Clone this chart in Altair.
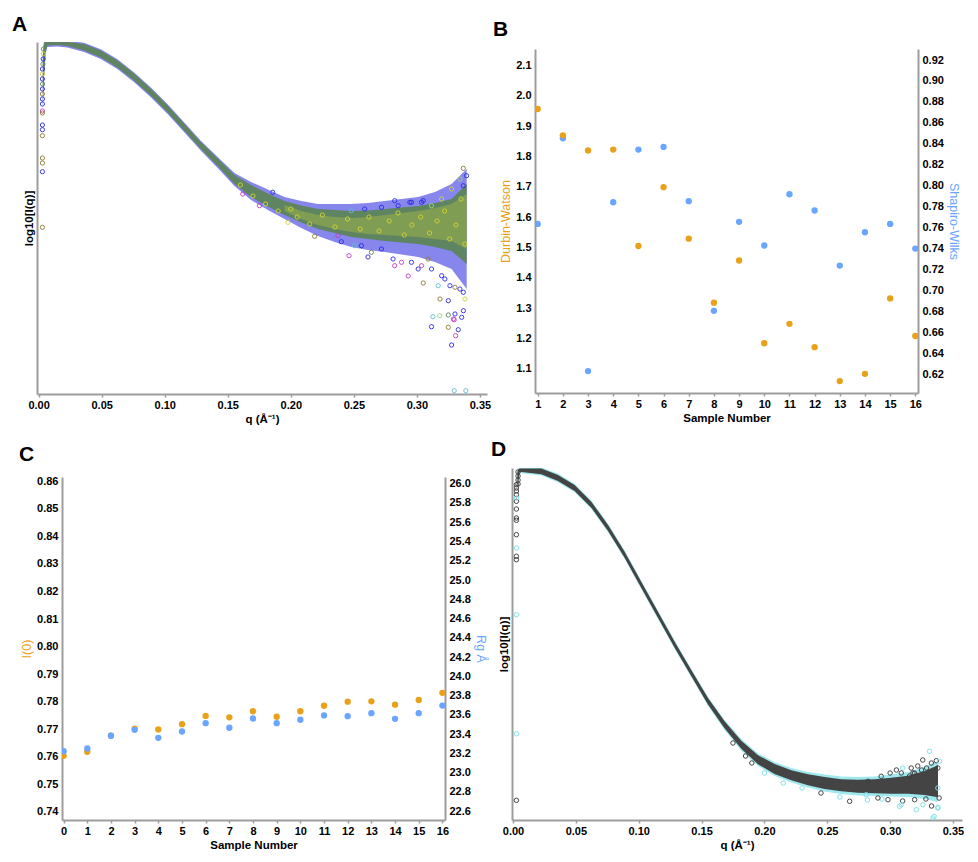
import altair as alt
import pandas as pd

FONT = "Liberation Sans"
ORANGE = "#E8A11B"
BLUE = "#6AA5FF"
AXIS_GREY = "#9d9d9d"

# ---------------- Panel A : overlaid scattering curves ----------------
a_q = [0.0033, 0.0042, 0.0055, 0.0069, 0.0150, 0.0228, 0.0360, 0.0493, 0.0625, 0.0758,
       0.0890, 0.1023, 0.1155, 0.1288, 0.1420, 0.1553, 0.1685, 0.1818, 0.1950, 0.2083,
       0.2215, 0.2348, 0.2480, 0.2613, 0.2745, 0.2878, 0.3010, 0.3143, 0.3275, 0.3395]
a_band_hi = [-0.25, -0.11, -0.10, -0.10, -0.10, -0.10, -0.12, -0.185, -0.285, -0.418,
             -0.568, -0.735, -0.918, -1.102, -1.265, -1.43, -1.53, -1.615, -1.69, -1.735,
             -1.77, -1.78, -1.79, -1.785, -1.77, -1.755, -1.74, -1.71, -1.67, -1.52]
a_band_lo = [-0.75, -0.45, -0.20, -0.135, -0.130, -0.140, -0.185, -0.255, -0.355, -0.488,
             -0.638, -0.805, -0.988, -1.172, -1.340, -1.52, -1.65, -1.745, -1.83, -1.905,
             -1.97, -2.01, -2.05, -2.07, -2.09, -2.105, -2.12, -2.15, -2.19, -2.32]
a_halo_hi = [-0.238, -0.098, -0.088, -0.088, -0.088, -0.088, -0.108, -0.173, -0.273, -0.406,
             -0.556, -0.723, -0.906, -1.090, -1.250, -1.41, -1.50, -1.575, -1.65, -1.69,
             -1.72, -1.72, -1.72, -1.71, -1.69, -1.67, -1.65, -1.60, -1.52, -1.37]
a_halo_lo = [-0.765, -0.465, -0.215, -0.150, -0.145, -0.155, -0.200, -0.270, -0.370, -0.503,
             -0.653, -0.820, -1.003, -1.187, -1.360, -1.54, -1.68, -1.78, -1.87, -1.96,
             -2.04, -2.10, -2.15, -2.18, -2.20, -2.225, -2.25, -2.30, -2.37, -2.57]
a_yel_q = [0.1950, 0.2083, 0.2215, 0.2348, 0.2480, 0.2613, 0.2745, 0.2878, 0.3010, 0.3143,
           0.3275, 0.3395]
a_yel_hi = [-1.73, -1.79, -1.83, -1.85, -1.86, -1.85, -1.83, -1.81, -1.79, -1.76, -1.72, -1.62]
a_yel_lo = [-1.79, -1.87, -1.93, -1.97, -2.00, -2.02, -2.03, -2.04, -2.05, -2.07, -2.09, -2.17]

a_pt_q = [0.0030, 0.0030, 0.0030, 0.0031, 0.0030, 0.0030, 0.0030, 0.0030, 0.0030, 0.0030,
          0.0030, 0.0030, 0.0030, 0.0030, 0.0030, 0.0030, 0.0030, 0.0038, 0.0038, 0.0036, 0.0034,
          0.1619, 0.1751, 0.1857, 0.1977, 0.2189, 0.2401, 0.2462, 0.2612, 0.2824, 0.2944,
          0.3050, 0.2931, 0.3010, 0.3050, 0.3116, 0.3127, 0.3182, 0.3249, 0.3275, 0.3307,
          0.3328, 0.3296, 0.3355, 0.3369, 0.3302, 0.3249, 0.3183, 0.3169, 0.3296, 0.3388,
          0.3368, 0.3394, 0.2824, 0.3249, 0.3289, 0.3381, 0.3368, 0.3341, 0.3302, 0.3262,
          0.3222, 0.3196, 0.3116, 0.3090, 0.3037, 0.2957, 0.2878, 0.2811, 0.2719, 0.2639,
          0.2560, 0.2506, 0.2374, 0.3368, 0.3341, 0.3275, 0.3196, 0.3116, 0.3037, 0.2957,
          0.2851, 0.2719, 0.2586, 0.2480,
          0.205, 0.215, 0.225, 0.235, 0.245, 0.255, 0.262, 0.270, 0.278, 0.285,
          0.290, 0.296, 0.303, 0.310, 0.316, 0.322, 0.326, 0.331, 0.335, 0.338,
          0.200, 0.190, 0.180, 0.170, 0.160]
a_pt_logi = [-0.37, -0.42, -0.47, -0.52, -0.57, -0.62, -0.67, -0.72, -0.79, -0.81,
             -0.93, -0.977, -1.037, -1.26, -1.31, -1.397, -1.953, -0.17, -0.22, -0.27, -0.32,
             -1.620, -1.737, -1.603, -1.903, -2.043, -2.097, -2.237, -2.250, -1.687, -1.703,
             -1.687, -2.440, -2.370, -2.510, -2.947, -2.847, -2.837, -2.953, -3.130, -3.037,
             -2.977, -2.877, -2.853, -2.787, -2.820, -2.687, -2.670, -2.537, -3.587, -3.587,
             -1.363, -1.437, -2.337, -2.830, -2.870, -2.670, -2.603, -2.570, -2.553, -2.537,
             -2.470, -2.437, -2.370, -2.270, -2.337, -2.303, -2.303, -2.270, -2.170, -2.203,
             -2.137, -2.137, -2.037, -1.537, -1.470, -1.570, -1.670, -1.737, -1.703, -1.703,
             -1.737, -1.753, -1.770, -1.787,
             -1.85, -1.92, -1.83, -1.95, -1.87, -1.97, -1.85, -1.99, -1.89, -1.81,
             -2.03, -1.93, -1.85, -2.01, -1.89, -1.79, -2.07, -1.93, -1.67, -2.12,
             -1.77, -1.79, -1.72, -1.64, -1.53]
a_pt_set = ["blue", "yellow", "blue", "green", "blue", "olive", "blue", "blue", "magenta", "olive",
            "blue", "blue", "olive", "olive", "olive", "blue", "olive", "green", "yellow", "blue", "green",
            "magenta", "magenta", "blue", "yellow", "olive", "blue", "magenta", "blue", "blue", "blue",
            "blue", "magenta", "blue", "olive", "blue", "cyan", "lightgreen", "olive", "blue", "magenta",
            "blue", "magenta", "blue", "blue", "blue", "blue", "olive", "cyan", "cyan", "cyan",
            "olive", "blue", "magenta", "green", "magenta", "yellow", "blue", "blue", "olive", "blue",
            "blue", "blue", "blue", "olive", "magenta", "blue", "magenta", "blue", "blue", "green",
            "blue", "cyan", "magenta", "blue", "lightgreen", "yellow", "yellow", "lightgreen", "blue", "blue",
            "blue", "blue", "blue", "cyan",
            "yellow", "yellow", "yellow", "yellow", "yellow", "yellow", "yellow", "yellow", "yellow", "yellow",
            "yellow", "yellow", "yellow", "yellow", "yellow", "yellow", "yellow", "yellow", "yellow", "yellow",
            "yellow", "yellow", "yellow", "yellow", "yellow"]

# ---------------- Panel B : residual statistics ----------------
b_sample = [1, 2, 3, 4, 5, 6, 7, 8, 9, 10, 11, 12, 13, 14, 15, 16]
b_dw = [1.957, 1.870, 1.820, 1.823, 1.505, 1.699, 1.529, 1.318,
        1.457, 1.184, 1.248, 1.171, 1.059, 1.083, 1.332, 1.208]
b_sw = [0.7636, 0.8453, 0.6232, 0.7843, 0.8345, 0.8371, 0.7853, 0.6807,
        0.7656, 0.7430, 0.7919, 0.7764, 0.7239, 0.7557, 0.7636, 0.7401]
b_dw_ticks = [1.1, 1.2, 1.3, 1.4, 1.5, 1.6, 1.7, 1.8, 1.9, 2.0, 2.1]
b_sw_ticks = [0.62, 0.64, 0.66, 0.68, 0.70, 0.72, 0.74, 0.76, 0.78, 0.80,
              0.82, 0.84, 0.86, 0.88, 0.90, 0.92]

# ---------------- Panel C : I(0) and Rg ----------------
c_sample = [0, 1, 2, 3, 4, 5, 6, 7, 8, 9, 10, 11, 12, 13, 14, 15, 16]
c_i0 = [0.7603, 0.7618, 0.7676, 0.7702, 0.7699, 0.7718, 0.7748, 0.7743, 0.7765,
        0.7745, 0.7765, 0.7785, 0.7800, 0.7801, 0.7789, 0.7806, 0.7832]
c_rg = [23.222, 23.250, 23.382, 23.444, 23.361, 23.426, 23.513, 23.465, 23.561,
        23.513, 23.548, 23.593, 23.586, 23.617, 23.558, 23.617, 23.696]
c_i0_ticks = [0.74, 0.75, 0.76, 0.77, 0.78, 0.79, 0.80, 0.81, 0.82, 0.83, 0.84, 0.85, 0.86]
c_rg_ticks = [22.6, 22.8, 23.0, 23.2, 23.4, 23.6, 23.8, 24.0, 24.2, 24.4, 24.6,
              24.8, 25.0, 25.2, 25.4, 25.6, 25.8, 26.0]

# ---------------- Panel D : merged scattering curve ----------------
d_q = [0.0035, 0.0045, 0.0053, 0.0225, 0.0358, 0.0490, 0.0623, 0.0756, 0.0888, 0.1020,
       0.1153, 0.1286, 0.1418, 0.1551, 0.1683, 0.1816, 0.1949, 0.2081, 0.2214, 0.2347,
       0.2479, 0.2612, 0.2744, 0.2877, 0.3010, 0.3142, 0.3275, 0.3381]
d_band_hi = [-0.14, -0.11, -0.105, -0.105, -0.17, -0.27, -0.437, -0.67, -0.937, -1.237,
             -1.537, -1.837, -2.12, -2.40, -2.632, -2.827, -2.972, -3.06, -3.123, -3.162,
             -3.19, -3.213, -3.218, -3.213, -3.197, -3.177, -3.13, -3.073]
d_band_lo = [-0.30, -0.22, -0.137, -0.163, -0.23, -0.33, -0.497, -0.73, -0.997, -1.297,
             -1.597, -1.897, -2.18, -2.466, -2.702, -2.907, -3.062, -3.16, -3.223, -3.272,
             -3.31, -3.333, -3.348, -3.353, -3.357, -3.357, -3.37, -3.393]
d_halo_hi = [-0.128, -0.098, -0.093, -0.093, -0.158, -0.258, -0.425, -0.658, -0.925, -1.225,
             -1.525, -1.825, -2.108, -2.388, -2.62, -2.81, -2.955, -3.04, -3.10, -3.14,
             -3.165, -3.185, -3.19, -3.185, -3.165, -3.14, -3.09, -3.03]
d_halo_lo = [-0.312, -0.232, -0.149, -0.175, -0.242, -0.342, -0.509, -0.742, -1.009, -1.309,
             -1.609, -1.909, -2.192, -2.478, -2.72, -2.925, -3.08, -3.18, -3.245, -3.295,
             -3.335, -3.36, -3.375, -3.38, -3.385, -3.39, -3.41, -3.44]
d_pt_q = [0.0027, 0.0027, 0.0027, 0.0027, 0.0027, 0.0027, 0.0027, 0.0027, 0.0027, 0.0027,
          0.0027, 0.0027, 0.0027, 0.0027, 0.0027, 0.0027, 0.0040, 0.0040, 0.0040, 0.0040,
          0.3314, 0.3208, 0.3350, 0.3075, 0.3381, 0.3368, 0.3328, 0.3290, 0.3250, 0.3195,
          0.3155, 0.2678, 0.3330, 0.3285, 0.3100, 0.2935, 0.2820, 0.2600, 0.2450, 0.2300,
          0.2150, 0.2000, 0.1900, 0.1850, 0.1750, 0.3000, 0.3050, 0.3100, 0.3220, 0.3260,
          0.3380, 0.3390, 0.3393, 0.3380, 0.3168, 0.3182, 0.3089, 0.3261, 0.3380, 0.3341,
          0.3089, 0.2983, 0.3195, 0.2903, 0.2810, 0.2929, 0.2824]
d_pt_logi = [-0.267, -0.30, -0.33, -0.367, -0.433, -0.51, -0.60, -0.623, -0.767, -0.983,
             -1.017, -3.423, -0.40, -0.90, -1.567, -2.757, -0.14, -0.18, -0.22, -0.26,
             -2.933, -3.517, -3.583, -3.483, -3.493, -3.027, -3.050, -3.100, -3.120, -3.150,
             -3.180, -3.433, -3.480, -3.410, -3.430, -3.410, -3.420, -3.390, -3.350, -3.300,
             -3.250, -3.150, -3.050, -2.980, -2.850, -3.150, -3.120, -3.100, -3.080, -3.020,
             -3.300, -3.400, -3.033, -3.100, -3.100, -3.150, -3.150, -3.467, -3.500, -3.600,
             -3.467, -3.417, -3.417, -3.400, -3.367, -3.183, -3.233]
d_pt_set = ["dark", "dark", "dark", "dark", "dark", "dark", "dark", "dark", "dark", "dark",
            "dark", "dark", "aqua", "aqua", "aqua", "aqua", "dark", "dark", "dark", "dark",
            "aqua", "aqua", "aqua", "aqua", "aqua", "dark", "dark", "dark", "dark", "dark",
            "dark", "dark", "dark", "dark", "dark", "aqua", "aqua", "aqua", "dark", "aqua",
            "aqua", "aqua", "dark", "dark", "dark", "dark", "dark", "aqua", "dark", "dark",
            "aqua", "dark", "aqua", "dark", "dark", "dark", "dark", "aqua", "aqua", "aqua",
            "aqua", "dark", "dark", "dark", "aqua", "dark", "dark"]

q_ticks = [0.0, 0.05, 0.10, 0.15, 0.20, 0.25, 0.30, 0.35]

set_names = ["blue", "yellow", "magenta", "olive", "cyan", "lightgreen", "green", "dark", "aqua"]
set_colors = ["#2b2be6", "#d2d634", "#c03fc0", "#8c7b35", "#5fc0d6", "#9bd67e", "#5e8462",
              "#3f3f3f", "#7fe0ea"]
set_scale = alt.Scale(domain=set_names, range=set_colors)


def panel_title(letter, dx, offset):
    return alt.TitleParams(text=letter, anchor="start", frame="group", dx=dx, offset=offset,
                           fontSize=21, font=FONT, fontWeight="bold", color="black")


def x_axis(title, values, fmt):
    return alt.Axis(title=title, values=values, format=fmt, labelFlush=False, ticks=True,
                    tickSize=3, tickWidth=1.5, labelPadding=2, titlePadding=3, grid=False)


def y_axis(title, values, fmt, orient, color):
    return alt.Axis(title=title, values=values, format=fmt, orient=orient, ticks=False,
                    labelPadding=4, titlePadding=3, titleColor=color, titleFontWeight="normal",
                    titleFontSize=12.5, grid=False)


def spacer(w, h):
    # empty, invisible view used only to place the panels
    return alt.Chart(pd.DataFrame({"v": []})).mark_point().encode(
        x=alt.value(0), y=alt.value(0)).properties(width=w, height=h)


# ---------------- build panel A ----------------
df_a_band = pd.DataFrame({"q": a_q, "hi": a_band_hi, "lo": a_band_lo})
df_a_halo = pd.DataFrame({"q": a_q, "hi": a_halo_hi, "lo": a_halo_lo})
df_a_yel = pd.DataFrame({"q": a_yel_q, "hi": a_yel_hi, "lo": a_yel_lo})
df_a_pts = pd.DataFrame({"q": a_pt_q, "hi": a_pt_logi, "set": a_pt_set})

logi_axis = alt.Axis(title="log10[I(q)]", labels=False, ticks=False, titlePadding=3, grid=False)
xA = alt.X("q:Q", scale=alt.Scale(domain=[-0.0013, 0.3556], nice=False, zero=False),
           axis=x_axis("q (Å⁻¹)", q_ticks, ".2f"))
yA = alt.Y("hi:Q", scale=alt.Scale(domain=[-3.62, -0.1], nice=False, zero=False), axis=logi_axis)

a_halo = alt.Chart(df_a_halo).mark_area(color="#3c3ce0", opacity=0.62, clip=True).encode(
    x=xA, y=yA, y2="lo:Q")
a_band = alt.Chart(df_a_band).mark_area(color="#5e8462", clip=True).encode(x=xA, y=yA, y2="lo:Q")
a_yel = alt.Chart(df_a_yel).mark_area(color="#d2d634", opacity=0.3, clip=True).encode(
    x=xA, y=yA, y2="lo:Q")
a_pts = alt.Chart(df_a_pts).mark_point(filled=False, size=18, strokeWidth=1, opacity=0.9,
                                       clip=True).encode(
    x=xA, y=yA, color=alt.Color("set:N", scale=set_scale, legend=None))
A = alt.layer(a_halo, a_band, a_yel, a_pts).properties(width=450, height=352,
                                                        title=panel_title("A", -25, 7))

# ---------------- build panel B ----------------
df_b = pd.DataFrame({"sample": b_sample, "dw": b_dw, "sw": b_sw})
xB = alt.X("sample:Q", scale=alt.Scale(domain=[0.893, 16.107], nice=False, zero=False),
           axis=x_axis("Sample Number", b_sample, "d"))
b_sw_layer = alt.Chart(df_b).mark_circle(size=40, opacity=1, color=BLUE, clip=True).encode(
    x=xB,
    y=alt.Y("sw:Q", scale=alt.Scale(domain=[0.6023, 0.9305], nice=False, zero=False),
            axis=y_axis("Shapiro-Wilks", b_sw_ticks, ".2f", "right", BLUE)))
b_dw_layer = alt.Chart(df_b).mark_circle(size=40, opacity=1, color=ORANGE, clip=True).encode(
    x=xB,
    y=alt.Y("dw:Q", scale=alt.Scale(domain=[1.0198, 2.155], nice=False, zero=False),
            axis=y_axis("Durbin-Watson", b_dw_ticks, ".1f", "left", ORANGE)))
B = alt.layer(b_sw_layer, b_dw_layer).resolve_scale(y="independent").properties(
    width=383, height=344, title=panel_title("B", -42, 9))

# ---------------- build panel C ----------------
df_c = pd.DataFrame({"sample": c_sample, "i0": c_i0, "rg": c_rg})
xC = alt.X("sample:Q", scale=alt.Scale(domain=[-0.068, 16.11], nice=False, zero=False),
           axis=x_axis("Sample Number", c_sample, "d"))
c_i0_layer = alt.Chart(df_c).mark_circle(size=40, opacity=1, color=ORANGE, clip=True).encode(
    x=xC,
    y=alt.Y("i0:Q", scale=alt.Scale(domain=[0.737, 0.8616], nice=False, zero=False),
            axis=y_axis("I(0)", c_i0_ticks, ".2f", "left", ORANGE)))
c_rg_layer = alt.Chart(df_c).mark_circle(size=40, opacity=1, color=BLUE, clip=True).encode(
    x=xC,
    y=alt.Y("rg:Q", scale=alt.Scale(domain=[22.507, 26.07], nice=False, zero=False),
            axis=y_axis("Rg Å", c_rg_ticks, ".1f", "right", BLUE)))
C = alt.layer(c_i0_layer, c_rg_layer).resolve_scale(y="independent").properties(
    width=383, height=343, title=panel_title("C", -43, 10))

# ---------------- build panel D ----------------
df_d_band = pd.DataFrame({"q": d_q, "hi": d_band_hi, "lo": d_band_lo})
df_d_halo = pd.DataFrame({"q": d_q, "hi": d_halo_hi, "lo": d_halo_lo})
df_d_pts = pd.DataFrame({"q": d_pt_q, "hi": d_pt_logi, "set": d_pt_set})
xD = alt.X("q:Q", scale=alt.Scale(domain=[-0.0008, 0.3572], nice=False, zero=False),
           axis=x_axis("q (Å⁻¹)", q_ticks, ".2f"))
yD = alt.Y("hi:Q", scale=alt.Scale(domain=[-3.62, -0.1], nice=False, zero=False), axis=logi_axis)
d_halo = alt.Chart(df_d_halo).mark_area(color="#86e2ea", opacity=0.8, clip=True).encode(
    x=xD, y=yD, y2="lo:Q")
d_band = alt.Chart(df_d_band).mark_area(color="#444444", clip=True).encode(x=xD, y=yD, y2="lo:Q")
d_pts = alt.Chart(df_d_pts).mark_point(filled=False, size=20, strokeWidth=1, opacity=0.95,
                                       clip=True).encode(
    x=xD, y=yD, color=alt.Color("set:N", scale=set_scale, legend=None))
D = alt.layer(d_halo, d_band, d_pts).properties(width=450, height=352,
                                                 title=panel_title("D", -21, 8))

# ---------------- layout: each panel offset by invisible spacers ----------------
VA = alt.vconcat(spacer(1, 1), A, spacing=5)
VB = alt.vconcat(spacer(1, 1), B, spacing=10)
VC = alt.vconcat(spacer(1, 1), C, spacing=14)
VD = alt.vconcat(spacer(1, 1), D, spacing=9)
row_top = alt.hconcat(spacer(2, 1), VA, VB, spacing=2)
row_bot = alt.hconcat(spacer(7, 1), VC, VD, spacing=4)

chart = alt.vconcat(row_top, row_bot, spacing=4).configure_view(stroke=None).configure_axis(
    labelFont=FONT, labelFontSize=11, labelFontWeight="bold", labelColor="black",
    titleFont=FONT, titleFontSize=11.5, titleFontWeight="bold", titleColor="black",
    domainColor=AXIS_GREY, domainWidth=2, tickColor=AXIS_GREY, grid=False
).properties(background="white", padding=0)

chart.save("out.html", embed_options={"renderer": "svg", "actions": False})
